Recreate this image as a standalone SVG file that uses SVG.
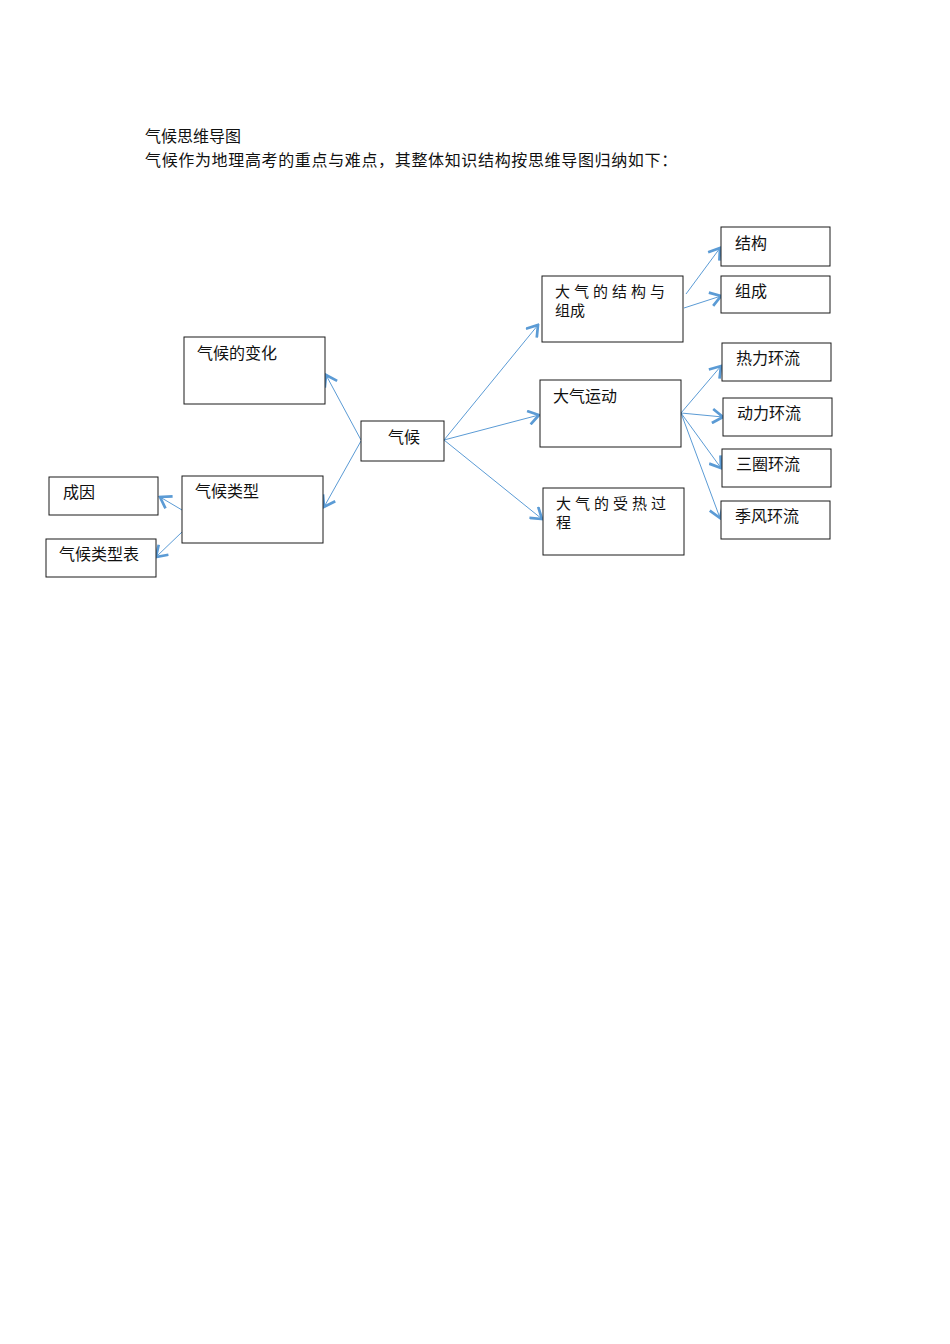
<svg xmlns="http://www.w3.org/2000/svg" width="950" height="1344" viewBox="0 0 950 1344">
<style>
text{font-family:"Noto Sans CJK SC","Liberation Sans",sans-serif;font-size:16px;fill:#111}
.box{fill:#fff;stroke:#1a1a1a;stroke-width:1}
.sp{letter-spacing:4px;font-size:15px}
.s2{font-size:15px}
.link{stroke:#5b9bd5;stroke-width:1;fill:none;marker-end:url(#arr)}
</style>
<defs>
<marker id="arr" viewBox="-13 -8 15 16" refX="0" refY="0" markerWidth="15" markerHeight="16" markerUnits="userSpaceOnUse" orient="auto">
<path d="M-10.5,-7 L0,0 L-10.5,7" fill="none" stroke="#5b9bd5" stroke-width="2.7"/>
</marker>
</defs>
<rect width="950" height="1344" fill="#fff"/>
<text x="145" y="142">气候思维导图</text>
<text x="145" y="166" style="letter-spacing:0.65px">气候作为地理高考的重点与难点，其整体知识结构按思维导图归纳如下：</text>
<g id="connectors">
<line class="link" x1="361" y1="440" x2="326" y2="375"/>
<line class="link" x1="361" y1="441" x2="324" y2="507"/>
<line class="link" x1="444" y1="440" x2="538" y2="325"/>
<line class="link" x1="444" y1="440" x2="539" y2="415"/>
<line class="link" x1="444" y1="440" x2="542" y2="519"/>
<line class="link" x1="686" y1="294" x2="720" y2="248"/>
<line class="link" x1="684" y1="308" x2="721" y2="296"/>
<line class="link" x1="681" y1="413" x2="721" y2="366"/>
<line class="link" x1="681" y1="413" x2="723" y2="417"/>
<line class="link" x1="681" y1="413" x2="721" y2="468"/>
<line class="link" x1="681" y1="413" x2="720" y2="518"/>
<line class="link" x1="182" y1="510" x2="160" y2="497"/>
<line class="link" x1="182" y1="532" x2="156" y2="557"/>
</g>
<g id="n-change"><rect class="box" x="184" y="337" width="141" height="67"/><text x="197" y="359">气候的变化</text></g>
<g id="n-climate"><rect class="box" x="361" y="421" width="83" height="40"/><text x="388" y="443">气候</text></g>
<g id="n-type"><rect class="box" x="182" y="476" width="141" height="67"/><text x="195" y="497">气候类型</text></g>
<g id="n-cause"><rect class="box" x="49" y="477" width="109" height="38"/><text x="63" y="498">成因</text></g>
<g id="n-table"><rect class="box" x="46" y="539" width="110" height="38"/><text x="59" y="560">气候类型表</text></g>
<g id="n-struct-comp"><rect class="box" x="542" y="276" width="141" height="66"/><text class="sp" x="555" y="297">大气的结构与</text><text class="s2" x="555" y="316">组成</text></g>
<g id="n-motion"><rect class="box" x="540" y="380" width="141" height="67"/><text x="553" y="402">大气运动</text></g>
<g id="n-heat"><rect class="box" x="543" y="488" width="141" height="67"/><text class="sp" x="556" y="509">大气的受热过</text><text class="s2" x="556" y="528">程</text></g>
<g id="n-structure"><rect class="box" x="721" y="227" width="109" height="39"/><text x="735" y="249">结构</text></g>
<g id="n-composition"><rect class="box" x="721" y="276" width="109" height="37"/><text x="735" y="297">组成</text></g>
<g id="n-thermal"><rect class="box" x="722" y="343" width="109" height="38"/><text x="736" y="364">热力环流</text></g>
<g id="n-dynamic"><rect class="box" x="723" y="398" width="109" height="38"/><text x="737" y="419">动力环流</text></g>
<g id="n-three"><rect class="box" x="722" y="449" width="109" height="38"/><text x="736" y="470">三圈环流</text></g>
<g id="n-monsoon"><rect class="box" x="721" y="501" width="109" height="38"/><text x="735" y="522">季风环流</text></g>
</svg>
